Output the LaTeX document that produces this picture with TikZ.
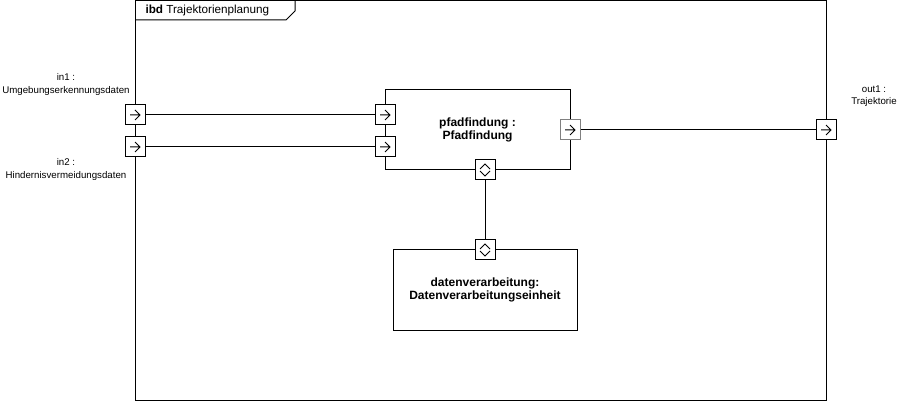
\documentclass[tikz,border=0pt]{standalone}
\usepackage{fontspec}
\setmainfont{Liberation Sans}
\definecolor{portgray}{RGB}{128,128,128}
\tikzset{
    port/.style={draw, rectangle, minimum size=20pt, inner sep=0pt, fill=white},
    block/.style={draw, rectangle, inner sep=0pt, align=center, font=\fontsize{12}{13}\selectfont\bfseries},
    lbl/.style={align=center, inner sep=0pt, font=\fontsize{9.7}{12.5}\selectfont},
}
\newcommand{\portarrow}[1]{%
    \draw[shift={(#1.center)}] (-5,0) -- (5,0) (0,-5) -- (5,0) -- (0,5);}
\newcommand{\portdiamond}[1]{%
    \draw[shift={(#1.center)}] (-5,-1) -- (0,-6) -- (5,-1) (-5,1) -- (0,6) -- (5,1);}
\begin{document}
\begin{tikzpicture}[x=1pt, y=-1pt, line width=1pt]
    \useasboundingbox (0,0) rectangle (906,401);
        % frame
        \node[draw, rectangle, minimum width=691pt, minimum height=399.5pt, inner sep=0pt, anchor=north west] (frame) at (135,0.5) {};
        \path[draw] (135,20) -- (286,20) -- (295,11) -- (295,0.5);
        \node[anchor=west, inner sep=0pt, font=\fontsize{11.7}{13}\selectfont] (title) at (145,10) {\textbf{ibd} Trajektorienplanung};

        % blocks
        \node[block, minimum width=185pt, minimum height=80pt] (pfad) at (477.5,130) {pfadfindung :\\Pfadfindung};
        \node[block, minimum width=184pt, minimum height=80pt] (daten) at (485,290) {datenverarbeitung:\\Datenverarbeitungseinheit};

        % ports
        \node[port] (in1) at (135,115) {};
        \node[port] (in2) at (135,147) {};
        \node[port] (out1) at (826,130) {};
        \node[port] (pin1) at (385,115) {};
        \node[port] (pin2) at (385,147) {};
        \node[port, draw=portgray] (pout) at (570,130) {};
        \node[port] (pbot) at (485,170) {};
        \node[port] (dtop) at (485,250) {};
        \portarrow{in1}
        \portarrow{in2}
        \portarrow{out1}
        \portarrow{pin1}
        \portarrow{pin2}
        \portarrow{pout}
        \portdiamond{pbot}
        \portdiamond{dtop}

        % port labels
        \node[lbl] (lin1) at (66,84.5) {in1 :\\Umgebungserkennungsdaten};
        \node[lbl] (lin2) at (66,169.5) {in2 :\\Hindernisvermeidungsdaten};
        \node[lbl] (lout1) at (874,96) {out1 :\\Trajektorie};

        % connectors
        \path[draw] (in1) -- (pin1);
        \path[draw] (in2) -- (pin2);
        \path[draw] (pout) -- (out1);
        \path[draw] (pbot) -- (dtop);
    \end{tikzpicture}
\end{document}
